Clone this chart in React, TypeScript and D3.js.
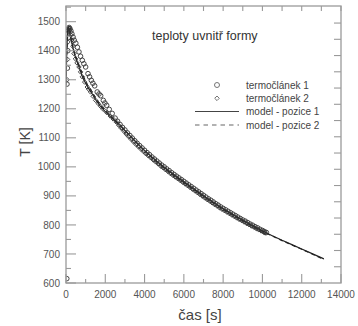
import React from "react";
import * as d3 from "d3";

// Thermocouple 1 (open circles): time [s] and temperature [K]
const tc1Time = [40, 50, 70, 90, 110, 130, 160, 200, 250, 300, 360, 420, 500, 580, 660, 740, 830, 910, 1000, 1120, 1200, 1290, 1370, 1460, 1590, 1680, 1765, 1900, 1980, 2070, 2200, 2350,
  2500, 2625, 2750, 2875, 3000, 3125, 3250, 3375, 3500, 3625, 3750, 3875, 4000, 4125, 4250, 4375, 4500, 4625, 4750, 4875,
  5000, 5125, 5250, 5375, 5500, 5625, 5750, 5875, 6000, 6125, 6250, 6375, 6500, 6625, 6750, 6875, 7000, 7125, 7250, 7375,
  7500, 7625, 7750, 7875, 8000, 8125, 8250, 8375, 8500, 8625, 8750, 8875, 9000, 9125, 9250, 9375, 9500, 9625, 9750, 9875,
  10000, 10100, 10200];
const tc1Temp = [615, 1285, 1340, 1400, 1445, 1470, 1480, 1476, 1468, 1458, 1447, 1436, 1426, 1412, 1396, 1381, 1367, 1355, 1344, 1321, 1310, 1298, 1288, 1279, 1258, 1251, 1245, 1229, 1220, 1212, 1198, 1184,
  1168, 1157, 1146, 1136, 1127, 1117, 1108, 1099, 1090, 1081, 1073, 1065, 1057, 1049, 1042, 1034, 1027, 1020, 1013, 1006,
  1000, 993, 987, 980, 974, 968, 962, 956, 950, 944, 938, 932, 926, 920, 914, 908, 902, 896, 890, 885,
  879, 873, 868, 862, 857, 852, 847, 842, 837, 832, 827, 822, 817, 813, 808, 803, 799, 794, 790, 785,
  781, 777, 774];

// Thermocouple 2 (open diamonds)
const tc2Time = [60, 80, 100, 120, 150, 190, 240, 300, 350, 407, 480, 560, 660, 740, 830, 950, 1080, 1160, 1250, 1380, 1510, 1640, 1765, 1900, 2070, 2250,
  2400, 2562, 2687, 2812, 2937, 3062, 3187, 3312, 3437, 3562, 3687, 3812, 3937, 4062, 4187, 4312, 4437, 4562, 4687, 4812,
  4937, 5062, 5187, 5312, 5437, 5562, 5687, 5812, 5937, 6062, 6187, 6312, 6437, 6562, 6687, 6812, 6937, 7062, 7187, 7312,
  7437, 7562, 7687, 7812, 7937, 8062, 8187, 8312, 8437, 8562, 8687, 8812, 8937, 9062, 9187, 9312, 9437, 9562, 9687, 9812,
  9937, 10062, 10150];
const tc2Temp = [1300, 1370, 1430, 1465, 1478, 1472, 1455, 1437, 1415, 1390, 1372, 1358, 1344, 1327, 1310, 1292, 1275, 1267, 1258, 1243, 1229, 1218, 1208, 1198, 1187, 1175,
  1165, 1154, 1143, 1133, 1123, 1113, 1104, 1095, 1086, 1077, 1069, 1061, 1053, 1045, 1038, 1031, 1024, 1017, 1010, 1003,
  997, 990, 984, 977, 971, 965, 959, 953, 947, 941, 935, 929, 923, 917, 911, 905, 899, 893, 887, 882,
  876, 870, 865, 859, 854, 849, 844, 839, 834, 829, 824, 819, 815, 810, 805, 801, 796, 792, 787, 783,
  779, 775, 772];

// Model, position 1 (solid line)
const model1Time = [0, 40, 80, 120, 160, 220, 300, 400, 500, 650, 850, 1100, 1300, 1500, 1750, 2000, 2250, 2500, 2750, 3000, 3500, 4000, 4500, 5000, 5500, 6000, 6500, 7000, 7500, 8000, 8500, 9000, 9500, 10000, 10500, 11000, 11500, 12000, 12500, 13130];
const model1Temp = [1280, 1400, 1468, 1480, 1474, 1452, 1426, 1396, 1374, 1346, 1308, 1275, 1255, 1232, 1208, 1190, 1173, 1158, 1143, 1125, 1090, 1056, 1026, 998, 972, 948, 924, 900, 877, 855, 835, 815, 797, 779, 763, 747, 732, 717, 702, 683];

// Model, position 2 (dashed line)
const model2Time = [0, 40, 90, 130, 170, 230, 300, 400, 500, 650, 850, 1100, 1300, 1500, 1750, 2000, 2250, 2500, 2750, 3000, 3500, 4000, 4500, 5000, 5500, 6000, 6500, 7000, 7500, 8000, 8500, 9000, 9500, 10000, 10500, 11000, 11500, 12000, 12500, 13130];
const model2Temp = [1290, 1390, 1460, 1478, 1470, 1448, 1430, 1402, 1380, 1352, 1316, 1282, 1261, 1238, 1213, 1194, 1176, 1160, 1144, 1126, 1090, 1055, 1024, 996, 970, 946, 922, 899, 876, 854, 834, 815, 796, 778, 762, 746, 731, 716, 701, 681];

const xMajorTicks = [0, 2000, 4000, 6000, 8000, 10000, 12000, 14000];
const xMinorTicks = [1000, 3000, 5000, 7000, 9000, 11000, 13000];
const yMajorTicks = [600, 700, 800, 900, 1000, 1100, 1200, 1300, 1400, 1500];
const yMinorTicks = [650, 750, 850, 950, 1050, 1150, 1250, 1350, 1450, 1550];
const rightTicks = [1, 2, 3, 4, 5, 6, 7, 8, 9, 10, 11, 12, 13, 14, 15, 16];

const legendLabels = ["termočlánek 1", "termočlánek 2", "model - pozice 1", "model - pozice 2"];
const chartTitle = "teploty uvnitř formy";
const xTitle = "čas [s]";
const yTitle = "T [K]";

const W = 358;
const H = 326;
const left = 66;
const right = 341;
const top = 6;
const bottom = 283;

const FONT = "'Liberation Sans', Arial, Helvetica, sans-serif";
const AXIS = "#9a9a9a";
const LABEL = "#555";
const INK = "#222";

export default function App() {
  const x = d3.scaleLinear().domain([0, 14000]).range([left, right]);
  const y = d3.scaleLinear().domain([600, 1554]).range([bottom, top]);
  const yRight = d3.scaleLinear().domain([0, 17.05]).range([bottom, top]);

  const line = d3
    .line<[number, number]>()
    .x((d) => x(d[0]))
    .y((d) => y(d[1]));

  const m1 = line(model1Time.map((t, i) => [t, model1Temp[i]] as [number, number])) || "";
  const m2 = line(model2Time.map((t, i) => [t, model2Temp[i]] as [number, number])) || "";

  const diamond = (cx: number, cy: number, r: number) =>
    `M${cx},${cy - r}L${cx + r},${cy}L${cx},${cy + r}L${cx - r},${cy}Z`;

  const legendX = 217;
  const legendTextX = 246;
  const legendY = [85, 98.3, 111.5, 125];

  return (
    <svg
      width={W}
      height={H}
      style={{ position: "absolute", left: 0, top: 0, background: "#fff" }}
      fontFamily={FONT}
    >
      <rect x={0} y={0} width={W} height={H} fill="#fff" />
      <defs>
        <clipPath id="plot-area">
          <rect x={left} y={top} width={right - left} height={bottom - top} />
        </clipPath>
      </defs>

      {/* data */}
      <g clipPath="url(#plot-area)">
        <path d={m1} fill="none" stroke={INK} strokeWidth={1.2} />
        <path d={m2} fill="none" stroke={INK} strokeWidth={1.2} strokeDasharray="4,3" />
        {tc1Time.map((t, i) => (
          <circle
            key={"c" + i}
            cx={x(t)}
            cy={y(tc1Temp[i])}
            r={2.3}
            fill="none"
            stroke="#333"
            strokeWidth={0.9}
          />
        ))}
        {tc2Time.map((t, i) => (
          <path
            key={"d" + i}
            d={diamond(x(t), y(tc2Temp[i]), 2.2)}
            fill="none"
            stroke="#333"
            strokeWidth={0.9}
          />
        ))}
      </g>

      {/* frame */}
      <rect x={left} y={top} width={right - left} height={bottom - top} fill="none" stroke={AXIS} strokeWidth={1.3} />

      {/* bottom axis ticks */}
      {xMajorTicks.map((t) => (
        <line key={"xb" + t} x1={x(t)} x2={x(t)} y1={bottom} y2={bottom - 9} stroke={AXIS} strokeWidth={1.1} />
      ))}
      {xMinorTicks.map((t) => (
        <line key={"xbm" + t} x1={x(t)} x2={x(t)} y1={bottom} y2={bottom - 4} stroke={AXIS} strokeWidth={1.1} />
      ))}
      {/* top axis ticks */}
      {[...xMajorTicks, ...xMinorTicks].map((t) => (
        <line key={"xt" + t} x1={x(t)} x2={x(t)} y1={top} y2={top + 5} stroke={AXIS} strokeWidth={1.1} />
      ))}
      {/* left axis ticks */}
      {yMajorTicks.map((v) => (
        <line key={"yl" + v} x1={left} x2={left + 10} y1={y(v)} y2={y(v)} stroke={AXIS} strokeWidth={1.1} />
      ))}
      {yMinorTicks.map((v) => (
        <line key={"ylm" + v} x1={left} x2={left + 5} y1={y(v)} y2={y(v)} stroke={AXIS} strokeWidth={1.1} />
      ))}
      {/* right axis ticks */}
      {rightTicks.map((v) => (
        <line key={"yr" + v} x1={right} x2={right - 7} y1={yRight(v)} y2={yRight(v)} stroke={AXIS} strokeWidth={1.1} />
      ))}

      {/* tick labels */}
      {xMajorTicks.map((t) => (
        <text key={"xl" + t} x={x(t)} y={297.5} fontSize={10} fill={LABEL} textAnchor="middle">
          {t}
        </text>
      ))}
      {yMajorTicks.map((v) => (
        <text key={"yll" + v} x={60} y={y(v) + 3.6} fontSize={10} fill={LABEL} textAnchor="end">
          {v}
        </text>
      ))}

      {/* axis titles */}
      <text x={200} y={320} fontSize={15} fill="#444" textAnchor="middle">
        {xTitle}
      </text>
      <text
        transform="translate(30,142) rotate(-90)"
        fontSize={14}
        fill="#444"
        textAnchor="middle"
      >
        {yTitle}
      </text>

      {/* chart title */}
      <text x={152} y={39.5} fontSize={12.5} fill="#333">
        {chartTitle}
      </text>

      {/* legend */}
      <circle cx={legendX} cy={legendY[0]} r={2.5} fill="none" stroke="#666" strokeWidth={0.9} />
      <path d={diamond(legendX, legendY[1], 2.3)} fill="none" stroke="#666" strokeWidth={0.9} />
      <line x1={195} x2={239} y1={legendY[2]} y2={legendY[2]} stroke="#444" strokeWidth={1.1} />
      <line x1={195} x2={239} y1={legendY[3]} y2={legendY[3]} stroke="#666" strokeWidth={1.1} strokeDasharray="4.5,4" />
      {legendLabels.map((s, i) => (
        <text key={s} x={legendTextX} y={legendY[i] + 3.5} fontSize={10} fill="#444">
          {s}
        </text>
      ))}
    </svg>
  );
}
